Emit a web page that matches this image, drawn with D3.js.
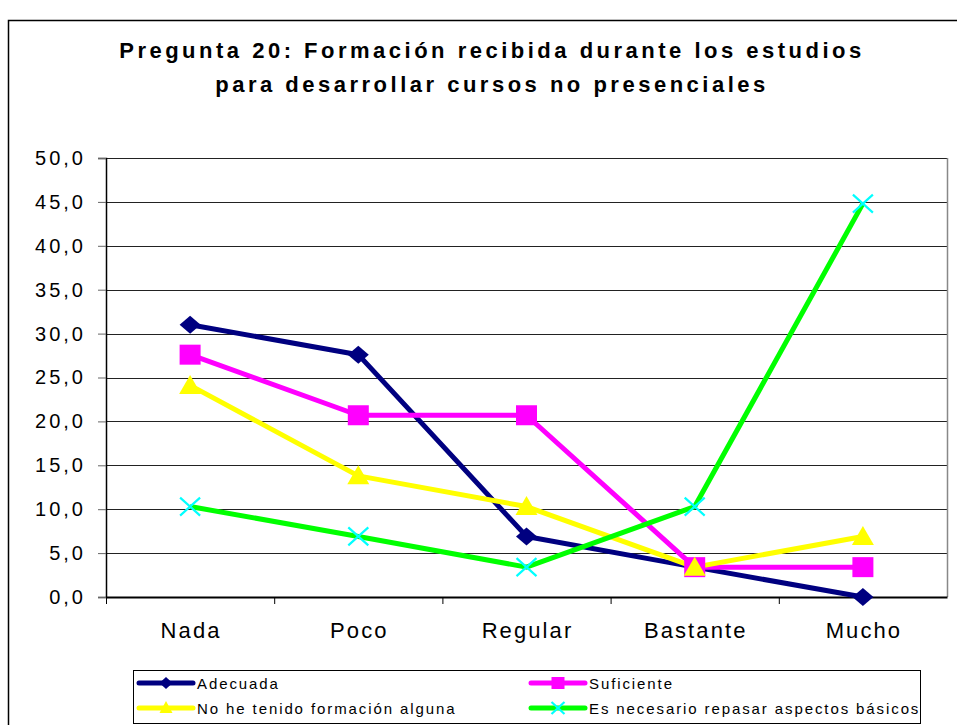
<!DOCTYPE html>
<html>
<head>
<meta charset="utf-8">
<script src="https://cdn.jsdelivr.net/npm/d3@7"></script>
<style>
  body { margin: 0; background: #fff; }
  text { font-family: "Liberation Sans", Arial, sans-serif; }
</style>
</head>
<body>
<script>
// chart data
var categories = ["Nada", "Poco", "Regular", "Bastante", "Mucho"];
var seriesNames = ["Adecuada", "Suficiente", "No he tenido formación alguna", "Es necesario repasar aspectos básicos"];
var adecuada = [31.0, 27.6, 6.9, 3.4, 0.0];
var suficiente = [27.6, 20.7, 20.7, 3.4, 3.4];
var noFormacion = [24.1, 13.8, 10.3, 3.4, 6.9];
var repasar = [10.3, 6.9, 3.4, 10.3, 44.8];
var yTicks = [0, 5, 10, 15, 20, 25, 30, 35, 40, 45, 50];
var titleLines = ["Pregunta 20: Formación recibida durante los estudios", "para desarrollar cursos no presenciales"];

var svgWidth = 957;
var svgHeight = 725;

var margin = { top: 158, right: 10, bottom: 128, left: 106 };
var width = 947 - margin.left;
var height = 597 - margin.top;

var svg = d3.select("body")
  .append("svg")
  .attr("width", svgWidth)
  .attr("height", svgHeight);

// outer chart border
svg.append("rect")
  .attr("x", 8.5).attr("y", 20.5)
  .attr("width", 960).attr("height", 720)
  .attr("fill", "none")
  .attr("stroke", "#000")
  .attr("stroke-width", 1.5);

// title
svg.append("g").selectAll("text")
  .data(titleLines)
  .enter()
  .append("text")
  .attr("x", 492)
  .attr("y", function(d, i) { return 58 + i * 34; })
  .attr("text-anchor", "middle")
  .attr("font-size", 22)
  .attr("font-weight", "bold")
  .attr("letter-spacing", 3.5)
  .text(function(d) { return d; });

var group = svg.append("g")
  .attr("transform", `translate(${margin.left}, ${margin.top})`);

var xScale = d3.scaleBand().domain(categories).range([0, width]);
var yScale = d3.scaleLinear().domain([0, 50]).range([height, 0]);

// gridlines
group.append("g")
  .selectAll("line")
  .data(yTicks.slice(1))
  .enter()
  .append("line")
  .attr("x1", 0).attr("x2", width)
  .attr("y1", function(d) { return Math.round(yScale(d)) + 0.5; })
  .attr("y2", function(d) { return Math.round(yScale(d)) + 0.5; })
  .attr("stroke", "#222")
  .attr("stroke-width", 1.2);

// right plot edge
group.append("line")
  .attr("x1", width + 0.5).attr("x2", width + 0.5)
  .attr("y1", 0).attr("y2", height)
  .attr("stroke", "#888").attr("stroke-width", 1.5);

// y axis
var leftAxis = d3.axisLeft(yScale)
  .tickValues(yTicks)
  .tickSize(8)
  .tickFormat(function(d) { return d3.format(".1f")(d).replace(".", ","); });
var yAxisG = group.append("g").call(leftAxis);
yAxisG.select(".domain").attr("stroke", "#000").attr("stroke-width", 1.5);
yAxisG.selectAll(".tick line").attr("stroke", "#666");
yAxisG.selectAll(".tick text")
  .attr("font-size", 20)
  .attr("font-family", "Liberation Sans, Arial, sans-serif")
  .attr("fill", "#000")
  .attr("x", -20)
  .attr("letter-spacing", 3);

// x axis
var bottomAxis = d3.axisBottom(xScale).tickSize(0).tickPadding(25);
var xAxisG = group.append("g")
  .attr("transform", "translate(0," + height + ")")
  .call(bottomAxis);
xAxisG.select(".domain").attr("stroke", "#000").attr("stroke-width", 2);
xAxisG.selectAll(".tick text")
  .attr("font-size", 22)
  .attr("font-family", "Liberation Sans, Arial, sans-serif")
  .attr("fill", "#000")
  .attr("letter-spacing", 2.1)
  .attr("dx", 1);
// category separator ticks
group.append("g")
  .selectAll("line")
  .data(categories.slice(1))
  .enter()
  .append("line")
  .attr("x1", function(d) { return xScale(d) + 0.5; })
  .attr("x2", function(d) { return xScale(d) + 0.5; })
  .attr("y1", height).attr("y2", height + 7)
  .attr("stroke", "#000");
group.append("line")
  .attr("x1", 0.5).attr("x2", 0.5)
  .attr("y1", height).attr("y2", height + 7)
  .attr("stroke", "#000");

var series = [
  { name: seriesNames[0], values: adecuada, color: "#000080", marker: "diamond", markerColor: "#000080" },
  { name: seriesNames[1], values: suficiente, color: "#ff00ff", marker: "square", markerColor: "#ff00ff" },
  { name: seriesNames[2], values: noFormacion, color: "#ffff00", marker: "triangle", markerColor: "#ffff00" },
  { name: seriesNames[3], values: repasar, color: "#00ff00", marker: "cross", markerColor: "#00ffff" }
];

var cx = function(i) { return xScale(categories[i]) + xScale.bandwidth() / 2; };

var line = d3.line()
  .x(function(d, i) { return cx(i); })
  .y(function(d) { return yScale(d); });

// w, h = marker width and height
function drawMarker(g, type, color, w, h) {
  var a = w / 2, b = h / 2;
  if (type === "diamond") {
    g.append("path").attr("d", "M0," + (-b) + "L" + a + ",0L0," + b + "L" + (-a) + ",0Z")
      .attr("fill", color);
  } else if (type === "square") {
    g.append("rect").attr("x", -a).attr("y", -b)
      .attr("width", w).attr("height", h).attr("fill", color);
  } else if (type === "triangle") {
    g.append("path")
      .attr("d", "M0," + (-b - 1) + "L" + a + "," + (b - 1) + "L" + (-a) + "," + (b - 1) + "Z")
      .attr("fill", color);
  } else if (type === "cross") {
    g.append("path")
      .attr("d", "M" + (-a) + "," + (-b) + "L" + a + "," + b + "M" + (-a) + "," + b + "L" + a + "," + (-b))
      .attr("stroke", color).attr("stroke-width", 2.2).attr("fill", "none");
  }
}

series.forEach(function(s) {
  group.append("path")
    .datum(s.values)
    .attr("d", line)
    .attr("fill", "none")
    .attr("stroke", s.color)
    .attr("stroke-width", 5)
    .attr("stroke-linejoin", "round");
});

var markerSize = { diamond: [21, 18], square: [21, 20], triangle: [22, 19], cross: [20, 18] };
series.forEach(function(s) {
  s.values.forEach(function(v, i) {
    var g = group.append("g").attr("transform", "translate(" + cx(i) + "," + yScale(v) + ")");
    drawMarker(g, s.marker, s.markerColor, markerSize[s.marker][0], markerSize[s.marker][1]);
  });
});

// legend
var legend = svg.append("g");
legend.append("rect")
  .attr("x", 133.5).attr("y", 670.5)
  .attr("width", 787).attr("height", 53)
  .attr("fill", "#fff")
  .attr("stroke", "#000");

var legendPos = [[139, 683], [531, 683], [139, 708], [531, 708]];
series.forEach(function(s, i) {
  var p = legendPos[i];
  var lg = legend.append("g").attr("transform", "translate(" + p[0] + "," + p[1] + ")");
  lg.append("line").attr("x1", 0).attr("x2", 54).attr("y1", 0).attr("y2", 0)
    .attr("stroke", s.color).attr("stroke-width", 5).attr("stroke-linecap", "round");
  var mg = lg.append("g").attr("transform", "translate(27,0)");
  drawMarker(mg, s.marker, s.markerColor, 13, 12);
  lg.append("text")
    .attr("x", 58).attr("y", 6)
    .attr("font-size", 15)
    .attr("letter-spacing", 1.9)
    .text(s.name);
});
</script>
</body>
</html>
